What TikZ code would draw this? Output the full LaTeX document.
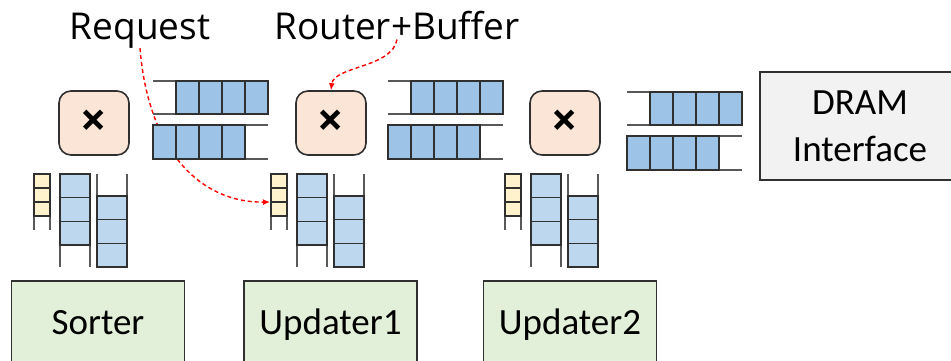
\documentclass[tikz,border=0pt]{standalone}
\usepackage{fontspec}
\setmainfont{Carlito}
\newfontfamily\labelfont{Open Sans}
\usetikzlibrary{arrows.meta,backgrounds}

\definecolor{routerfill}{HTML}{FBE5D6}
\definecolor{hbuffill}{HTML}{9DC3E6}
\definecolor{vbuffill}{HTML}{BDD7EE}
\definecolor{ybuffill}{HTML}{FFF2CC}
\definecolor{modfill}{HTML}{E2F0D9}
\definecolor{dramfill}{HTML}{F2F2F2}
\definecolor{edge}{HTML}{303030}

\tikzset{
  router/.style={draw=edge,line width=1.6pt,fill=routerfill,rounded corners=12pt,
    minimum width=70pt,minimum height=64pt,inner sep=0pt,
    font=\labelfont\bfseries\fontsize{46}{46}\selectfont},
  module/.style={draw=edge,line width=1.6pt,fill=modfill,minimum width=173pt,
    minimum height=90pt,text height=24pt,text depth=8pt,
    font=\fontsize{37}{44}\selectfont},
  rail/.style={draw=edge!80,line width=1.6pt},
  cellbox/.style={draw=edge,line width=1.4pt},
  callout/.style={red,dashed,dash pattern=on 4pt off 3pt,line width=1.4pt,
    -{Latex[length=7pt,width=6pt]}},
  tag/.style={font=\labelfont\fontsize{37}{40}\selectfont,anchor=base,inner sep=0pt}
}

\begin{document}
\begin{tikzpicture}[x=1pt,y=-1pt]
\useasboundingbox (0,0) rectangle (951,360);

% routers with their buffers
\foreach \cx/\hx/\hy/\n in {94/153/81/1, 331/388/81/2, 565/627/92/3}{
  \node[router] (r\n) at (\cx,123) {×};
  % outgoing / incoming link buffers
  \draw[rail] (\hx,\hy) -- ++(115,0);
  \draw[rail] (\hx,\hy+33) -- ++(115,0);
  \foreach \i in {0,...,3}
    \draw[cellbox,fill=hbuffill] ({\hx+23+\i*23},\hy) rectangle ++(23,33);
  \draw[rail] (\hx,\hy+44) -- ++(115,0);
  \draw[rail] (\hx,\hy+78) -- ++(115,0);
  \foreach \i in {0,...,3}
    \draw[cellbox,fill=hbuffill] ({\hx+\i*23},\hy+44) rectangle ++(23,34);
  % request queue
  \draw[rail] (\cx-60,174) -- (\cx-60,230);
  \draw[rail] (\cx-44,174) -- (\cx-44,230);
  \foreach \i in {0,1,2}
    \draw[cellbox,fill=ybuffill] (\cx-60,{174+\i*14}) rectangle ++(16,14);
  \coordinate (yb\n) at (\cx-61,202);
  % local ports
  \draw[rail] (\cx-34,174) -- (\cx-34,267);
  \draw[rail] (\cx-4,174) -- (\cx-4,267);
  \foreach \i in {0,1,2}
    \draw[cellbox,fill=vbuffill] (\cx-34,{174+\i*23.7}) rectangle ++(30,23.7);
  \draw[rail] (\cx+3,174) -- (\cx+3,267);
  \draw[rail] (\cx+33,174) -- (\cx+33,267);
  \foreach \i in {0,1,2}
    \draw[cellbox,fill=vbuffill] (\cx+3,{196+\i*23.7}) rectangle ++(30,23.7);
}

\node[draw=edge,line width=1.8pt,fill=dramfill,minimum width=200pt,minimum height=108pt,
  align=center,font=\fontsize{37}{46.7}\selectfont] (dram) at (860,126) {DRAM\\Interface};

\node[module] (sorter) at (98,326) {Sorter};
\node[module] (upd1) at (330.5,326) {Updater1};
\node[module] (upd2) at (570,326) {Updater2};

\node[tag] (req) at (140,39) {Request};
\node[tag] (rtbuf) at (397,39) {Router+Buffer};

\begin{scope}[on background layer]
\draw[callout] (req.south) .. controls (148,150) and (200,203) .. (yb2);
\draw[callout] (rtbuf.south) .. controls (392,68) and (334,66) .. (r2.north);
\end{scope}
\end{tikzpicture}
\end{document}
